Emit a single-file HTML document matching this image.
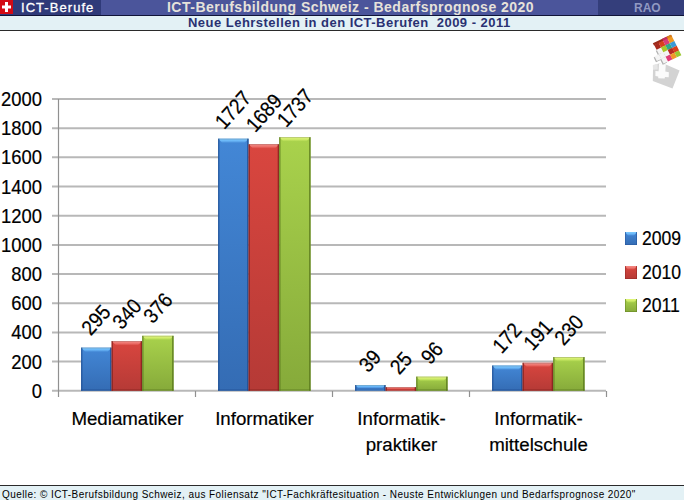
<!DOCTYPE html>
<html><head><meta charset="utf-8">
<style>
html,body{margin:0;padding:0;background:#fff;}
body{width:684px;height:500px;position:relative;overflow:hidden;font-family:"Liberation Sans",sans-serif;}
.a{position:absolute;}
#hdr{left:0;top:0;width:684px;height:15px;background:#4b559b;}
#hdrL{left:0;top:0;width:101px;height:15px;background:#2f3a79;}
#hdrR{left:598px;top:0;width:86px;height:15px;background:#343e7b;}
#flag{left:0;top:0;width:13px;height:14px;background:#d20a14;}
#line1{left:0;top:15px;width:684px;height:1px;background:#101438;}
#sub{left:0;top:16px;width:684px;height:14px;background:#e3f1f5;}
#line2{left:0;top:30px;width:684px;height:1px;background:#2a2a2a;}
.ht{white-space:nowrap;line-height:1;}
#foot{left:0;top:486px;width:684px;height:14px;background:#e3f1f5;}
#fline{left:0;top:485px;width:684px;height:1px;background:#2a2a2a;}
.dl{-webkit-text-stroke:0.2px #000;width:100px;height:18px;text-align:center;font-size:21px;line-height:18px;white-space:nowrap;transform:rotate(-48deg) scaleX(0.9);}
.yl{-webkit-text-stroke:0.2px #000;left:-18.2px;width:60px;text-align:right;font-size:20px;line-height:18px;transform:scaleX(0.92);transform-origin:right center;}
.cl{-webkit-text-stroke:0.2px #000;font-size:18.7px;line-height:26px;text-align:center;white-space:nowrap;}
.lg{-webkit-text-stroke:0.2px #000;font-size:20px;transform:scaleX(0.88);transform-origin:left center;line-height:18px;white-space:nowrap;}
.lbl{white-space:nowrap;color:#000;font-size:18px;line-height:1;}
</style></head>
<body>
<div class="a" id="hdr"></div>
<div class="a" id="hdrL"></div>
<div class="a" id="hdrR"></div>
<div class="a" id="flag"></div>
<svg class="a" style="left:0;top:0" width="13" height="14"><rect x="5" y="2" width="3" height="10" fill="#fff"/><rect x="2" y="5.5" width="9" height="3" fill="#fff"/></svg>
<div class="a" id="line1"></div>
<div class="a" id="sub"></div>
<div class="a" id="line2"></div>
<div class="a ht" id="tICT" style="left:21px;top:1px;font-size:13px;color:#fff;letter-spacing:1.05px;-webkit-text-stroke:0.3px #fff;">ICT-Berufe</div>
<div class="a ht" id="tTitle" style="left:167px;top:0px;font-size:14px;letter-spacing:0.485px;font-weight:bold;color:#e6e2da;">ICT-Berufsbildung Schweiz - Bedarfsprognose 2020</div>
<div class="a ht" id="tRAO" style="left:634px;top:2px;font-size:12px;font-weight:bold;color:#9199c2;">RAO</div>
<div class="a ht" id="tSub" style="left:188px;top:16px;font-size:13px;letter-spacing:0.475px;font-weight:bold;color:#2a3172;">Neue Lehrstellen in den ICT-Berufen&nbsp; 2009 - 2011</div>

<svg class="a" style="left:0;top:0" width="684" height="500" id="chart">
<defs>
<linearGradient id="gB" x1="0" y1="0" x2="0" y2="1"><stop offset="0" stop-color="#4387d6"/><stop offset="1" stop-color="#346cb4"/></linearGradient>
<linearGradient id="gR" x1="0" y1="0" x2="0" y2="1"><stop offset="0" stop-color="#d9463f"/><stop offset="1" stop-color="#b53a36"/></linearGradient>
<linearGradient id="gG" x1="0" y1="0" x2="0" y2="1"><stop offset="0" stop-color="#a9d24c"/><stop offset="1" stop-color="#86aa3a"/></linearGradient>
<linearGradient id="hB" x1="0" y1="0" x2="0" y2="1"><stop offset="0" stop-color="#7ccaff"/><stop offset="0.5" stop-color="#6cb8f8"/><stop offset="1" stop-color="#4a90dc"/></linearGradient>
<linearGradient id="hR" x1="0" y1="0" x2="0" y2="1"><stop offset="0" stop-color="#f48a84"/><stop offset="0.5" stop-color="#ee7670"/><stop offset="1" stop-color="#dc4c46"/></linearGradient>
<linearGradient id="hG" x1="0" y1="0" x2="0" y2="1"><stop offset="0" stop-color="#e2f67c"/><stop offset="0.5" stop-color="#d0ec6a"/><stop offset="1" stop-color="#acd44e"/></linearGradient>
</defs>
<g stroke="#b8b8b8" stroke-width="2">
<line x1="52" y1="390.80" x2="606" y2="390.80"/>
<line x1="52" y1="361.62" x2="606" y2="361.62"/>
<line x1="52" y1="332.44" x2="606" y2="332.44"/>
<line x1="52" y1="303.26" x2="606" y2="303.26"/>
<line x1="52" y1="274.08" x2="606" y2="274.08"/>
<line x1="52" y1="244.90" x2="606" y2="244.90"/>
<line x1="52" y1="215.72" x2="606" y2="215.72"/>
<line x1="52" y1="186.54" x2="606" y2="186.54"/>
<line x1="52" y1="157.36" x2="606" y2="157.36"/>
<line x1="52" y1="128.18" x2="606" y2="128.18"/>
<line x1="52" y1="99.00" x2="606" y2="99.00"/>
</g>
<g stroke="#909090" stroke-width="1.2">
<line x1="58.5" y1="99" x2="58.5" y2="397"/>
<line x1="195.5" y1="391" x2="195.5" y2="397"/>
<line x1="332.5" y1="391" x2="332.5" y2="397"/>
<line x1="469.5" y1="391" x2="469.5" y2="397"/>
<line x1="606.5" y1="391" x2="606.5" y2="397"/>
</g>
<rect x="81.10" y="347.66" width="30.50" height="43.14" fill="url(#gB)"/>
<polygon points="81.10,347.66 111.60,347.66 107.60,351.66 85.10,351.66" fill="url(#hB)"/>
<rect x="81.10" y="347.66" width="1.3" height="43.14" fill="#1e4c90" opacity="0.75"/>
<rect x="110.10" y="347.66" width="1.5" height="43.14" fill="#1e4c90" opacity="0.8"/>
<rect x="81.10" y="347.66" width="30.50" height="0.8" fill="#606060" opacity="0.3"/>
<rect x="81.10" y="389.20" width="30.50" height="1.6" fill="#1e4c90" opacity="0.45"/>
<rect x="111.60" y="341.09" width="30.60" height="49.71" fill="url(#gR)"/>
<polygon points="111.60,341.09 142.20,341.09 138.20,345.09 115.60,345.09" fill="url(#hR)"/>
<rect x="111.60" y="341.09" width="1.3" height="49.71" fill="#80201c" opacity="0.75"/>
<rect x="140.70" y="341.09" width="1.5" height="49.71" fill="#80201c" opacity="0.8"/>
<rect x="111.60" y="341.09" width="30.60" height="0.8" fill="#606060" opacity="0.3"/>
<rect x="111.60" y="389.20" width="30.60" height="1.6" fill="#80201c" opacity="0.45"/>
<rect x="142.20" y="335.84" width="31.40" height="54.96" fill="url(#gG)"/>
<polygon points="142.20,335.84 173.60,335.84 169.60,339.84 146.20,339.84" fill="url(#hG)"/>
<rect x="142.20" y="335.84" width="1.3" height="54.96" fill="#56761c" opacity="0.75"/>
<rect x="172.10" y="335.84" width="1.5" height="54.96" fill="#56761c" opacity="0.8"/>
<rect x="142.20" y="335.84" width="31.40" height="0.8" fill="#606060" opacity="0.3"/>
<rect x="142.20" y="389.20" width="31.40" height="1.6" fill="#56761c" opacity="0.45"/>
<rect x="218.10" y="138.73" width="30.50" height="252.07" fill="url(#gB)"/>
<polygon points="218.10,138.73 248.60,138.73 244.60,142.73 222.10,142.73" fill="url(#hB)"/>
<rect x="218.10" y="138.73" width="1.3" height="252.07" fill="#1e4c90" opacity="0.75"/>
<rect x="247.10" y="138.73" width="1.5" height="252.07" fill="#1e4c90" opacity="0.8"/>
<rect x="218.10" y="138.73" width="30.50" height="0.8" fill="#606060" opacity="0.3"/>
<rect x="218.10" y="389.20" width="30.50" height="1.6" fill="#1e4c90" opacity="0.45"/>
<rect x="248.60" y="144.27" width="30.60" height="246.53" fill="url(#gR)"/>
<polygon points="248.60,144.27 279.20,144.27 275.20,148.27 252.60,148.27" fill="url(#hR)"/>
<rect x="248.60" y="144.27" width="1.3" height="246.53" fill="#80201c" opacity="0.75"/>
<rect x="277.70" y="144.27" width="1.5" height="246.53" fill="#80201c" opacity="0.8"/>
<rect x="248.60" y="144.27" width="30.60" height="0.8" fill="#606060" opacity="0.3"/>
<rect x="248.60" y="389.20" width="30.60" height="1.6" fill="#80201c" opacity="0.45"/>
<rect x="279.20" y="137.27" width="31.40" height="253.53" fill="url(#gG)"/>
<polygon points="279.20,137.27 310.60,137.27 306.60,141.27 283.20,141.27" fill="url(#hG)"/>
<rect x="279.20" y="137.27" width="1.3" height="253.53" fill="#56761c" opacity="0.75"/>
<rect x="309.10" y="137.27" width="1.5" height="253.53" fill="#56761c" opacity="0.8"/>
<rect x="279.20" y="137.27" width="31.40" height="0.8" fill="#606060" opacity="0.3"/>
<rect x="279.20" y="389.20" width="31.40" height="1.6" fill="#56761c" opacity="0.45"/>
<rect x="355.10" y="385.01" width="30.50" height="5.79" fill="url(#gB)"/>
<polygon points="355.10,385.01 385.60,385.01 382.70,387.90 358.00,387.90" fill="url(#hB)"/>
<rect x="355.10" y="385.01" width="1.3" height="5.79" fill="#1e4c90" opacity="0.75"/>
<rect x="384.10" y="385.01" width="1.5" height="5.79" fill="#1e4c90" opacity="0.8"/>
<rect x="355.10" y="385.01" width="30.50" height="0.8" fill="#606060" opacity="0.3"/>
<rect x="385.60" y="387.05" width="30.60" height="3.75" fill="url(#gR)"/>
<polygon points="385.60,387.05 416.20,387.05 414.33,388.93 387.47,388.93" fill="url(#hR)"/>
<rect x="385.60" y="387.05" width="1.3" height="3.75" fill="#80201c" opacity="0.75"/>
<rect x="414.70" y="387.05" width="1.5" height="3.75" fill="#80201c" opacity="0.8"/>
<rect x="385.60" y="387.05" width="30.60" height="0.8" fill="#606060" opacity="0.3"/>
<rect x="416.20" y="376.69" width="31.40" height="14.11" fill="url(#gG)"/>
<polygon points="416.20,376.69 447.60,376.69 443.60,380.69 420.20,380.69" fill="url(#hG)"/>
<rect x="416.20" y="376.69" width="1.3" height="14.11" fill="#56761c" opacity="0.75"/>
<rect x="446.10" y="376.69" width="1.5" height="14.11" fill="#56761c" opacity="0.8"/>
<rect x="416.20" y="376.69" width="31.40" height="0.8" fill="#606060" opacity="0.3"/>
<rect x="416.20" y="389.20" width="31.40" height="1.6" fill="#56761c" opacity="0.45"/>
<rect x="492.10" y="365.61" width="30.50" height="25.19" fill="url(#gB)"/>
<polygon points="492.10,365.61 522.60,365.61 518.60,369.61 496.10,369.61" fill="url(#hB)"/>
<rect x="492.10" y="365.61" width="1.3" height="25.19" fill="#1e4c90" opacity="0.75"/>
<rect x="521.10" y="365.61" width="1.5" height="25.19" fill="#1e4c90" opacity="0.8"/>
<rect x="492.10" y="365.61" width="30.50" height="0.8" fill="#606060" opacity="0.3"/>
<rect x="492.10" y="389.20" width="30.50" height="1.6" fill="#1e4c90" opacity="0.45"/>
<rect x="522.60" y="362.83" width="30.60" height="27.97" fill="url(#gR)"/>
<polygon points="522.60,362.83 553.20,362.83 549.20,366.83 526.60,366.83" fill="url(#hR)"/>
<rect x="522.60" y="362.83" width="1.3" height="27.97" fill="#80201c" opacity="0.75"/>
<rect x="551.70" y="362.83" width="1.5" height="27.97" fill="#80201c" opacity="0.8"/>
<rect x="522.60" y="362.83" width="30.60" height="0.8" fill="#606060" opacity="0.3"/>
<rect x="522.60" y="389.20" width="30.60" height="1.6" fill="#80201c" opacity="0.45"/>
<rect x="553.20" y="357.14" width="31.40" height="33.66" fill="url(#gG)"/>
<polygon points="553.20,357.14 584.60,357.14 580.60,361.14 557.20,361.14" fill="url(#hG)"/>
<rect x="553.20" y="357.14" width="1.3" height="33.66" fill="#56761c" opacity="0.75"/>
<rect x="583.10" y="357.14" width="1.5" height="33.66" fill="#56761c" opacity="0.8"/>
<rect x="553.20" y="357.14" width="31.40" height="0.8" fill="#606060" opacity="0.3"/>
<rect x="553.20" y="389.20" width="31.40" height="1.6" fill="#56761c" opacity="0.45"/>
</svg>
<div class="a dl" style="left:46.35px;top:311.16px;">295</div>
<div class="a dl" style="left:76.90px;top:304.59px;">340</div>
<div class="a dl" style="left:107.90px;top:299.34px;">376</div>
<div class="a dl" style="left:183.35px;top:100.73px;">1727</div>
<div class="a dl" style="left:213.90px;top:104.27px;">1689</div>
<div class="a dl" style="left:244.90px;top:99.27px;">1737</div>
<div class="a dl" style="left:320.35px;top:352.01px;">39</div>
<div class="a dl" style="left:350.90px;top:354.05px;">25</div>
<div class="a dl" style="left:381.90px;top:343.69px;">96</div>
<div class="a dl" style="left:457.35px;top:329.11px;">172</div>
<div class="a dl" style="left:487.90px;top:326.33px;">191</div>
<div class="a dl" style="left:518.90px;top:320.64px;">230</div>
<div class="a yl" style="top:381.80px;">0</div>
<div class="a yl" style="top:352.62px;">200</div>
<div class="a yl" style="top:323.44px;">400</div>
<div class="a yl" style="top:294.26px;">600</div>
<div class="a yl" style="top:265.08px;">800</div>
<div class="a yl" style="top:235.90px;">1000</div>
<div class="a yl" style="top:206.72px;">1200</div>
<div class="a yl" style="top:177.54px;">1400</div>
<div class="a yl" style="top:148.36px;">1600</div>
<div class="a yl" style="top:119.18px;">1800</div>
<div class="a yl" style="top:90.00px;">2000</div>
<div class="a cl" id="tC1" style="left:59px;top:406px;width:137px;">Mediamatiker</div>
<div class="a cl" id="tC2" style="left:196px;top:406px;width:137px;">Informatiker</div>
<div class="a cl" id="tC3" style="left:333px;top:406px;width:137px;">Informatik-<br>praktiker</div>
<div class="a cl" id="tC4" style="left:470px;top:406px;width:137px;">Informatik-<br>mittelschule</div>
<svg class="a" style="left:625px;top:232px" width="12" height="13"><rect x="0" y="0" width="12" height="13" fill="url(#gB)"/><polygon points="0,0 12,0 9,3.5 3,3.5" fill="url(#hB)"/><rect x="0" y="0" width="1" height="13" fill="#2a5aa0" opacity="0.6"/><rect x="11" y="0" width="1" height="13" fill="#2a5aa0" opacity="0.7"/><rect x="0" y="12" width="12" height="1" fill="#2a5aa0" opacity="0.6"/></svg>
<svg class="a" style="left:625px;top:265.8px" width="12" height="13"><rect x="0" y="0" width="12" height="13" fill="url(#gR)"/><polygon points="0,0 12,0 9,3.5 3,3.5" fill="url(#hR)"/><rect x="0" y="0" width="1" height="13" fill="#9a2c28" opacity="0.6"/><rect x="11" y="0" width="1" height="13" fill="#9a2c28" opacity="0.7"/><rect x="0" y="12" width="12" height="1" fill="#9a2c28" opacity="0.6"/></svg>
<svg class="a" style="left:625px;top:299.2px" width="12" height="13"><rect x="0" y="0" width="12" height="13" fill="url(#gG)"/><polygon points="0,0 12,0 9,3.5 3,3.5" fill="url(#hG)"/><rect x="0" y="0" width="1" height="13" fill="#6a8a26" opacity="0.6"/><rect x="11" y="0" width="1" height="13" fill="#6a8a26" opacity="0.7"/><rect x="0" y="12" width="12" height="1" fill="#6a8a26" opacity="0.6"/></svg>
<div class="a lg" id="tL1" style="left:642px;top:229px;">2009</div>
<div class="a lg" id="tL2" style="left:642px;top:262.5px;">2010</div>
<div class="a lg" id="tL3" style="left:642px;top:296px;">2011</div>

<svg class="a" style="left:630px;top:30px" width="54" height="65" viewBox="630 30 54 65">
<polygon points="653.1,65.5 658.9,63.6 666.4,64.8 679.6,70.6 672.5,88.6 652.8,81.1" fill="#d3d3d3"/>
<polygon points="652.8,65 657.5,63.8 657.8,69.6 653,69.8" fill="#e6e6e6"/>
<polygon points="659,63.8 665.8,64.6 665.3,71.5 668.9,72.2 668.7,77.3 665,77 664.6,78.6 658.3,78.2 658.2,76.4 655.4,76 655.4,71 658.6,71.2" fill="#fbfbfb"/>
<g transform="matrix(4.43,-2.1,2.33,4.65,654.2,44.9)">
<g transform="translate(-0.25,0.15)" fill="#b0b0b0"><rect x="0" y="1" width="1" height="3"/><rect x="-1" y="2" width="3" height="1"/></g><rect x="-0.1" y="-0.4" width="4.1" height="0.5" fill="#9a2a1a"/><rect x="2" y="-0.4" width="1" height="0.5" fill="#c03060"/><rect x="3" y="-0.4" width="1" height="0.5" fill="#d88018"/>
<rect x="0" y="1" width="1.02" height="1.02" fill="#f4f4f4"/><rect x="0" y="2" width="1.02" height="1.02" fill="#f4f4f4"/><rect x="0" y="3" width="1.02" height="1.02" fill="#f4f4f4"/><rect x="1" y="2" width="1.02" height="1.02" fill="#f4f4f4"/><rect x="-1" y="2" width="1.02" height="1.02" fill="#f4f4f4"/>
<rect x="0" y="0" width="1.02" height="1.02" fill="#a82a1e"/><rect x="1" y="0" width="1.02" height="1.02" fill="#d8401e"/><rect x="2" y="0" width="1.02" height="1.02" fill="#d83c78"/><rect x="3" y="0" width="1.02" height="1.02" fill="#f09820"/><rect x="1" y="1" width="1.02" height="1.02" fill="#a6c82a"/><rect x="2" y="1" width="1.02" height="1.02" fill="#30a88a"/><rect x="3" y="1" width="1.02" height="1.02" fill="#3a9ad8"/><rect x="2" y="2" width="1.02" height="1.02" fill="#b82a22"/><rect x="3" y="2" width="1.02" height="1.02" fill="#d8401e"/><rect x="1" y="3" width="1.02" height="1.02" fill="#e03c78"/><rect x="2" y="3" width="1.02" height="1.02" fill="#f0982a"/><rect x="3" y="3" width="1.02" height="1.02" fill="#9cc832"/>
</g>
</svg>
<div class="a" id="fline"></div>
<div class="a" id="foot"></div>
<div class="a ht" id="tFoot" style="left:2px;top:490px;font-size:10px;letter-spacing:0.437px;color:#000;">Quelle: © ICT-Berufsbildung Schweiz, aus Foliensatz "ICT-Fachkräftesituation - Neuste Entwicklungen und Bedarfsprognose 2020"</div>
</body></html>
